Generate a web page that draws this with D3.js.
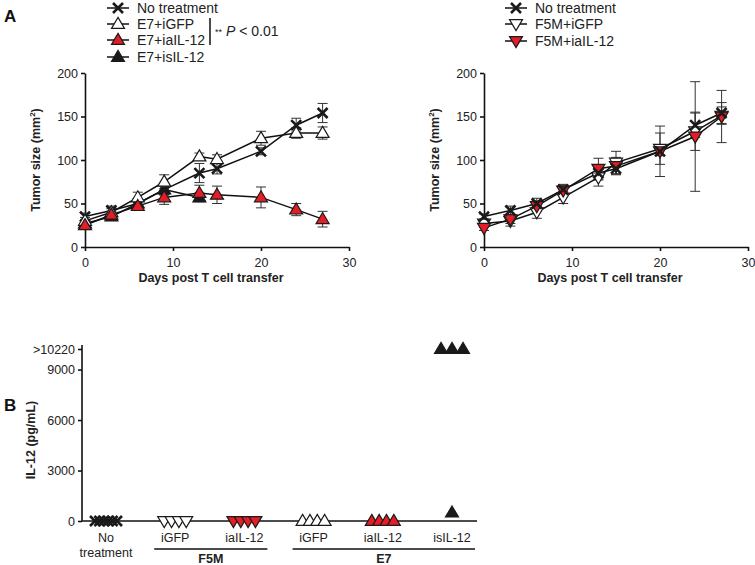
<!DOCTYPE html>
<html><head><meta charset="utf-8">
<script src="https://cdn.jsdelivr.net/npm/d3@7"></script>
<style>
body{margin:0;background:#fff;}
svg{font-family:"Liberation Sans",Arial,sans-serif;}
</style></head>
<body><svg id="c" width="755" height="565"></svg>
<script>
// ---------- DATA ----------
const days = [0,3,6,9,13,15,20,24,27];
const daysShort = [0,3,6,9,13];
// Panel A left (E7)
const noTreatA = [35,42,50,66,85,90,110,140,154];
const noTreatAErr = [4,5,5,6,11,6,4,8,11];
const e7iGFP = [30,40,57,75,104,101,125,131,131];
const e7iGFPErr = [4,4,6,8,4,5,8,6,7];
const e7iaIL12 = [25,37,47,57,62,60,57,43,32];
const e7iaIL12Err = [4,4,5,8,9,10,12,7,9];
const e7isIL12 = [27,35,50,66,57];
const e7isIL12Err = [4,4,5,6,5];
// Panel A right (F5M)
const noTreatB = [35,42,50,66,85,90,110,140,154];
const noTreatBErr = [3,5,6,6,8,6,5,14,12];
const f5miGFP = [27,30,40,57,80,97,113,133,151];
const f5miGFPErr = [4,6,7,7,10,13,18,22,10];
const f5miaIL12 = [22,32,47,65,90,93,110,127,150];
const f5miaIL12Err = [3,5,6,6,12,10,29,63,30];
const tumorTicks = [0,50,100,150,200];
const dayTicks = [0,10,20,30];
// Panel B
const catsB = ["No treatment","F5M iGFP","F5M iaIL-12","E7 iGFP","E7 iaIL-12","E7 isIL-12"];
const catLabels = [["No","treatment"],["iGFP"],["iaIL-12"],["iGFP"],["iaIL-12"],["isIL-12"]];
const il12NoTreat = [0,0,0,0,0,0];
const il12F5MiGFP = [0,0,0,0];
const il12F5MiaIL12 = [0,0,0,0];
const il12E7iGFP = [0,0,0,0];
const il12E7iaIL12 = [0,0,0,0];
const il12E7isIL12 = [10220,10220,10220,500];
const il12Ticks = [0,3000,6000,9000,10220];
const groupsB = [{name:"F5M", from:1, to:2},{name:"E7", from:3, to:5}];

const RED = "#e41e26";
const svg = d3.select("#c");

// ---------- marker helpers ----------
function triPath(up, w, h){
  return up ? `M0,${-h*0.6}L${w/2},${h*0.4}L${-w/2},${h*0.4}Z`
            : `M0,${h*0.6}L${w/2},${-h*0.4}L${-w/2},${-h*0.4}Z`;
}
function drawMarker(g, type, x, y){
  const s = g.append("g").attr("transform",`translate(${x},${y})`);
  if(type==="x"){
    s.append("path").attr("d","M-5,-5L5,5M-5,5L5,-5").attr("stroke","#1a1a1a").attr("stroke-width",2.6).attr("fill","none");
  } else {
    const up = type.startsWith("up");
    const fill = type.endsWith("open") ? "#fff" : type.endsWith("red") ? RED : "#1a1a1a";
    s.append("path").attr("d",triPath(up,13,11)).attr("fill",fill).attr("stroke","#1a1a1a").attr("stroke-width",1.2);
  }
}

// ---------- Panel A ----------
function panelA(x0,x1,series){
  const x = d3.scaleLinear().domain([0,30]).range([x0,x1]);
  const y = d3.scaleLinear().domain([0,200]).range([247,73]);
  const g = svg.append("g");
  const ax = g.append("g").attr("transform","translate(0,247)")
    .call(d3.axisBottom(x).tickValues(dayTicks).tickSize(4).tickSizeOuter(0));
  const ay = g.append("g").attr("transform",`translate(${x0},0)`)
    .call(d3.axisLeft(y).tickValues(tumorTicks).tickSize(4).tickSizeOuter(0));
  [ax,ay].forEach(a=>{
    a.selectAll("path,line").attr("stroke","#111").attr("stroke-width",1.6);
    a.selectAll("text").attr("font-size",12.5).attr("fill","#222").attr("font-family","Liberation Sans, Arial");
  });
  ax.selectAll("text").attr("dy","1.05em");
  g.append("text").attr("x",x(15)-6).attr("y",282)
    .attr("text-anchor","middle").attr("font-weight","bold").attr("font-size",12.5).attr("fill","#222")
    .text("Days post T cell transfer");
  const yl = g.append("text").attr("transform",`translate(${x0-45},160) rotate(-90)`)
    .attr("text-anchor","middle").attr("font-weight","bold").attr("font-size",12.5).attr("fill","#222");
  yl.append("tspan").text("Tumor size (mm");
  yl.append("tspan").attr("font-size",8).attr("dy",-5).text("2");
  yl.append("tspan").attr("dy",5).text(")");
  // error bars
  series.forEach(s=>{
    s.vals.forEach((v,i)=>{
      const e = s.err[i], xx = x(s.days[i]);
      g.append("path").attr("d",`M${xx},${y(v-e)}V${y(v+e)}M${xx-5},${y(v-e)}H${xx+5}M${xx-5},${y(v+e)}H${xx+5}`)
        .attr("stroke","#333").attr("stroke-width",1).attr("fill","none");
    });
  });
  // lines
  series.forEach(s=>{
    g.append("path").datum(s.vals).attr("fill","none").attr("stroke","#111").attr("stroke-width",1.5)
      .attr("d",d3.line().x((d,i)=>x(s.days[i])).y(d=>y(d)));
  });
  series.forEach(s=>{
    s.vals.forEach((v,i)=>drawMarker(g,s.type,x(s.days[i]),y(v)));
  });
}

panelA(85,349,[
  {vals:e7isIL12, err:e7isIL12Err, days:daysShort, type:"up-black"},
  {vals:noTreatA, err:noTreatAErr, days:days, type:"x"},
  {vals:e7iGFP, err:e7iGFPErr, days:days, type:"up-open"},
  {vals:e7iaIL12, err:e7iaIL12Err, days:days, type:"up-red"}
]);
panelA(484,748,[
  {vals:f5miGFP, err:f5miGFPErr, days:days, type:"down-open"},
  {vals:f5miaIL12, err:f5miaIL12Err, days:days, type:"down-red"},
  {vals:noTreatB, err:noTreatBErr, days:days, type:"x"}
]);

// ---------- Legends ----------
function legend(x0, ys, items){
  items.forEach((it,i)=>{
    const g = svg.append("g");
    g.append("line").attr("x1",x0).attr("x2",x0+22).attr("y1",ys[i]).attr("y2",ys[i]).attr("stroke","#111").attr("stroke-width",1.5);
    drawMarker(g,it.type,x0+11,ys[i]);
    g.append("text").attr("x",x0+30).attr("y",ys[i]+5).attr("font-size",14).attr("fill","#222").text(it.label);
  });
}
legend(107,[8,24,40,57],[
  {type:"x",label:"No treatment"},
  {type:"up-open",label:"E7+iGFP"},
  {type:"up-red",label:"E7+iaIL-12"},
  {type:"up-black",label:"E7+isIL-12"}
]);
legend(505,[8,24,41],[
  {type:"x",label:"No treatment"},
  {type:"down-open",label:"F5M+iGFP"},
  {type:"down-red",label:"F5M+iaIL-12"}
]);
svg.append("line").attr("x1",210).attr("x2",210).attr("y1",18).attr("y2",45).attr("stroke","#111").attr("stroke-width",1.5);
const pt = svg.append("text").attr("x",215).attr("y",36).attr("font-size",14).attr("fill","#222");
pt.append("tspan").attr("font-size",9).attr("dy",-1).text("**");
pt.append("tspan").attr("dy",1).text(" ");
pt.append("tspan").attr("font-style","italic").text("P");
pt.append("tspan").text(" < 0.01");

svg.append("text").attr("x",4).attr("y",22).attr("font-weight","bold").attr("font-size",17).attr("fill","#111").text("A");
svg.append("text").attr("x",4).attr("y",411).attr("font-weight","bold").attr("font-size",17).attr("fill","#111").text("B");

// ---------- Panel B ----------
(function(){
  const x = d3.scalePoint().domain(catsB).range([106,452]);
  const y = d3.scaleLinear().domain([0,10220]).range([521,349]);
  const g = svg.append("g");
  const ay = g.append("g").attr("transform","translate(82,0)")
    .call(d3.axisLeft(y).tickValues(il12Ticks).tickSize(4).tickSizeOuter(0)
      .tickFormat(d=> d===10220 ? ">10220" : d));
  ay.select(".domain").attr("d","M0,345V521");
  ay.selectAll("path,line").attr("stroke","#111").attr("stroke-width",1.6);
  ay.selectAll("text").attr("font-size",12.5).attr("fill","#222").attr("font-family","Liberation Sans, Arial");
  g.append("line").attr("x1",82).attr("x2",477).attr("y1",521).attr("y2",521).attr("stroke","#111").attr("stroke-width",1.6);
  g.append("text").attr("transform","translate(35,440) rotate(-90)").attr("text-anchor","middle")
    .attr("font-weight","bold").attr("font-size",12.5).attr("fill","#222").text("IL-12 (pg/mL)");
  // category labels
  catsB.forEach((c,i)=>{
    catLabels[i].forEach((t,j)=>{
      g.append("text").attr("x",x(c)).attr("y",542+j*15).attr("text-anchor","middle")
        .attr("font-size",12.5).attr("fill","#222").text(t);
    });
  });
  groupsB.forEach(gr=>{
    const a = x(catsB[gr.from])-21, b = x(catsB[gr.to])+23;
    g.append("line").attr("x1",a).attr("x2",b).attr("y1",549).attr("y2",549).attr("stroke","#111").attr("stroke-width",1.3);
    g.append("text").attr("x",(a+b)/2).attr("y",563).attr("text-anchor","middle").attr("font-weight","bold")
      .attr("font-size",12.5).attr("fill","#222").text(gr.name);
  });
  const pts = [
    {vals:il12NoTreat, type:"x"},
    {vals:il12F5MiGFP, type:"down-open"},
    {vals:il12F5MiaIL12, type:"down-red"},
    {vals:il12E7iGFP, type:"up-open"},
    {vals:il12E7iaIL12, type:"up-red"},
    {vals:il12E7isIL12, type:"up-black"}
  ];
  pts.forEach((p,ci)=>{
    const groups = d3.group(p.vals.map((v,i)=>({v,i})), d=>d.v);
    groups.forEach(arr=>{
      const n = arr.length, sp = n>1 ? 22/(n-1) : 0;
      arr.forEach((d,k)=>{
        drawMarker(g,p.type,x(catsB[ci])+(k-(n-1)/2)*sp,y(d.v));
      });
    });
  });
})();
</script></body></html>
